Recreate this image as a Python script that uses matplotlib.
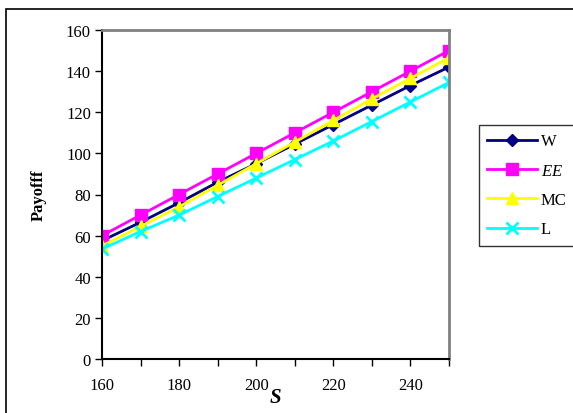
import numpy as np
import matplotlib
matplotlib.use('Agg')
import matplotlib.pyplot as plt
from matplotlib.patches import Rectangle
from matplotlib.ticker import MultipleLocator


s_values = [160, 170, 180, 190, 200, 210, 220, 230, 240, 250]
payoff_w = [57.5, 66.5, 76, 86, 95, 104.5, 114, 123.5, 133, 142]
payoff_ee = [60, 70, 80, 90, 100, 110, 120, 130, 140, 150]
payoff_mc = [55, 64.5, 74, 84.5, 95, 105.5, 116, 126.5, 136.5, 146.5]
payoff_l = [53.5, 62, 70, 79, 88, 97, 106, 115.5, 125, 134.5]

series_names = ['W', '$\\mathit{EE}$', 'MC', 'L']


plt.rcParams['font.family'] = ['Liberation Serif', 'DejaVu Serif']
plt.rcParams['mathtext.fontset'] = 'custom'
plt.rcParams['mathtext.it'] = 'Liberation Serif:italic'

fig = plt.figure(figsize=(5.73, 4.14), dpi=100)
ax = fig.add_axes([102/573, 1 - 360/414, 347/573, 329/414])

# outer frame of the figure
fig.patches.append(Rectangle((6/573, -0.1), 1.2, 1.1 - 10/414, transform=fig.transFigure,
                             fill=False, edgecolor='k', linewidth=1.2))

ax.plot(s_values, payoff_w, color='#000080', marker='D', markersize=6, linewidth=2, label=series_names[0])
ax.plot(s_values, payoff_ee, color='#ff00ff', marker='s', markersize=8, linewidth=2, label=series_names[1])
ax.plot(s_values, payoff_mc, color='#ffff00', marker='^', markersize=8, linewidth=2, label=series_names[2])
ax.plot(s_values, payoff_l, color='#00ffff', marker='x', markersize=8, markeredgewidth=2, linewidth=2, label=series_names[3])

ax.set_xlim(160, 250)
ax.set_ylim(0, 160)
ax.xaxis.set_major_locator(MultipleLocator(20))
ax.xaxis.set_minor_locator(MultipleLocator(10))
ax.yaxis.set_major_locator(MultipleLocator(20))
ax.tick_params(axis='both', which='both', direction='out', labelsize=12, width=1)
ax.tick_params(axis='x', which='both', length=5, pad=8)
ax.tick_params(axis='y', length=5, pad=3)

for side in ['left', 'bottom']:
    ax.spines[side].set_color('k')
    ax.spines[side].set_linewidth(1.5)
for side in ['top', 'right']:
    ax.spines[side].set_color('#808080')
    ax.spines[side].set_linewidth(2)

ax.set_ylabel('Payofff', fontsize=12, fontweight='bold', labelpad=14)
ax.set_xlabel('S', fontsize=15, fontweight='bold', style='italic', labelpad=-4)

leg = ax.legend(loc='upper left', bbox_to_anchor=(479/573, 1 - 126/414), bbox_transform=fig.transFigure,
                fontsize=12, frameon=True, fancybox=False, edgecolor='k', borderaxespad=0,
                handlelength=3.0, labelspacing=0.8, borderpad=0.5, handletextpad=0.2)
leg.get_frame().set_linewidth(1)

fig.savefig('out.png', dpi=100)
